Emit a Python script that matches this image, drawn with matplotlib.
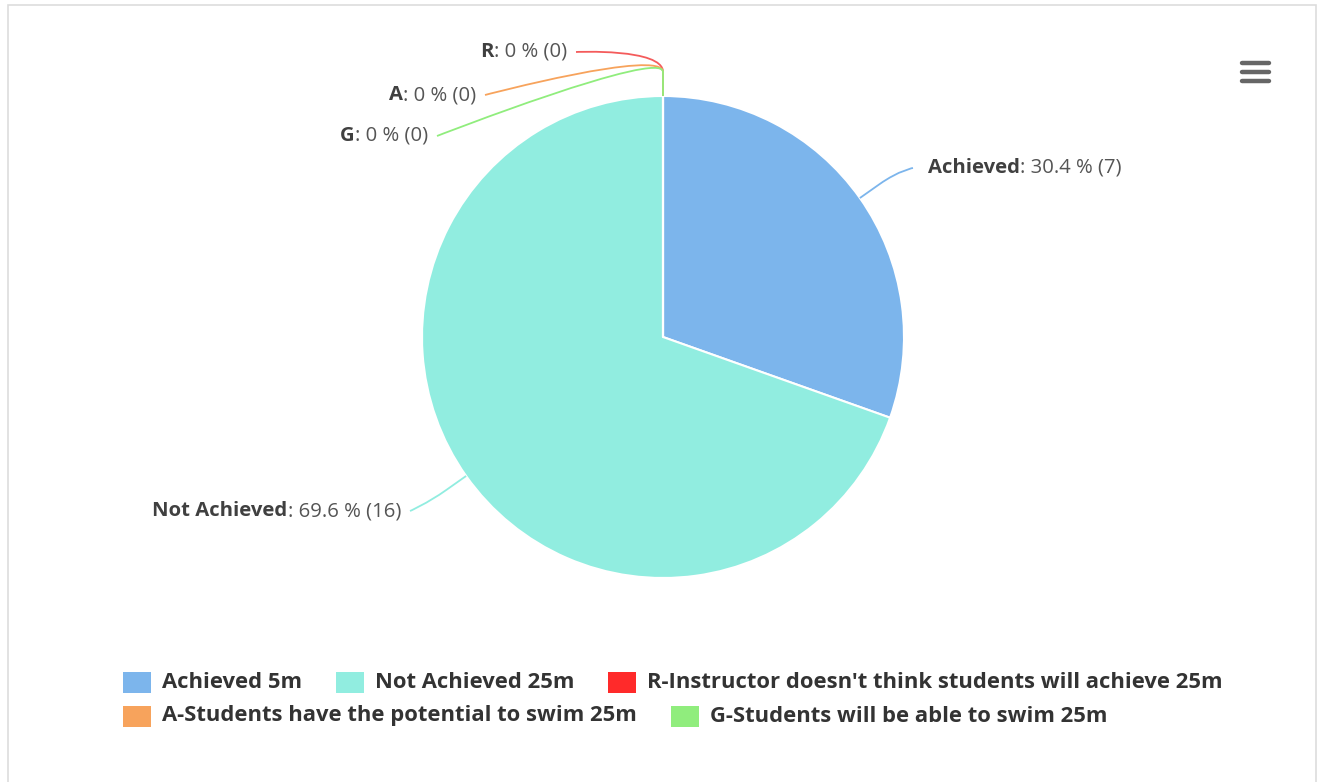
'''
Pie chart of swimming results (Highcharts style)
'''

import matplotlib
matplotlib.use('Agg')
import matplotlib.pyplot as plt
from matplotlib.path import Path
from matplotlib.patches import PathPatch, Rectangle
import numpy as np

W, H = 1325, 782

# data
slice_names = ['Achieved', 'Not Achieved', 'R', 'A', 'G']
legend_names = ['Achieved 5m', 'Not Achieved 25m',
                "R-Instructor doesn't think students will achieve 25m",
                'A-Students have the potential to swim 25m',
                'G-Students will be able to swim 25m']
counts = [7, 16, 0, 0, 0]
colors = ['#7cb5ec', '#91ede0', '#ff2a2a', '#f7a35c', '#90ed7d']
line_colors = ['#7cb5ec', '#91ede0', '#f45b5b', '#f7a35c', '#90ed7d']

# layout (pixel coords, y measured from top)
CX, CY, R = 663, 337, 241
BREAK = 24
label_end = [(913, 168), (410, 511), (576, 52), (485, 95), (437, 136)]
label_side = ['right', 'left', 'left', 'left', 'left']
legend_rows = [[0, 1, 2], [3, 4]]
legend_y = [682, 716]
legend_x0 = 123

FONT = 'Open Sans'
LABEL_SIZE = 14.6
LEGEND_SIZE = 15.8
TXT = '#333333'


def py(y):
    return H - y


fig = plt.figure(figsize=(W / 100, H / 100), dpi=100)
ax = fig.add_axes([0, 0, 1, 1])

wedges, _ = ax.pie(counts, colors=colors, startangle=90, counterclock=False,
                   center=(CX, py(CY)), radius=R,
                   wedgeprops=dict(edgecolor='white', linewidth=1.5))
ax.set_xlim(0, W)
ax.set_ylim(0, H)
ax.set_aspect('equal')
ax.axis('off')

# frame
fig.patches.append(Rectangle((8 / W, -0.1), (1316 - 8) / W, (H - 5) / H + 0.1,
                             transform=fig.transFigure, fill=False,
                             edgecolor='#dddddd', linewidth=1.2))

renderer = fig.canvas.get_renderer()
total = float(sum(counts))

for wedge, name, n, color, (lx, ly), side in zip(
        wedges, slice_names, counts, line_colors, label_end, label_side):
    ang = np.deg2rad((wedge.theta1 + wedge.theta2) / 2)
    ex, ey = CX + R * np.cos(ang), py(CY) + R * np.sin(ang)
    bx, by = CX + (R + BREAK) * np.cos(ang), py(CY) + (R + BREAK) * np.sin(ang)
    lyd = py(ly)
    verts = [(lx, lyd), (lx, lyd), (2 * bx - ex, 2 * by - ey), (bx, by), (ex, ey)]
    codes = [Path.MOVETO, Path.CURVE4, Path.CURVE4, Path.CURVE4, Path.LINETO]
    ax.add_patch(PathPatch(Path(verts, codes), fill=False, edgecolor=color,
                           linewidth=1.3, zorder=1))

    pct = round(100 * n / total, 1)
    pct_txt = ('%d' % pct) if pct == int(pct) else ('%.1f' % pct)
    rest = ': %s %% (%d)' % (pct_txt, n)
    if side == 'right':
        t = ax.text(lx + 15, lyd, name, ha='left', va='center',
                    fontfamily=FONT, fontsize=LABEL_SIZE,
                    fontweight='bold', color='#404040')
        bb = t.get_window_extent(renderer)
        ax.text(bb.x1, lyd, rest, ha='left', va='center',
                fontfamily=FONT, fontsize=LABEL_SIZE, color='#555555')
    else:
        t = ax.text(lx - 9, lyd, rest, ha='right', va='center',
                    fontfamily=FONT, fontsize=LABEL_SIZE, color='#555555')
        bb = t.get_window_extent(renderer)
        ax.text(bb.x0, lyd, name, ha='right', va='center',
                fontfamily=FONT, fontsize=LABEL_SIZE,
                fontweight='bold', color='#404040')

# legend
for row, y in zip(legend_rows, legend_y):
    x = legend_x0
    for i in row:
        ax.add_patch(Rectangle((x, py(y) - 10.5), 28, 21, facecolor=colors[i],
                               edgecolor='none'))
        t = ax.text(x + 39, py(y), legend_names[i], ha='left', va='center',
                    fontfamily=FONT, fontsize=LEGEND_SIZE,
                    fontweight='bold', color=TXT)
        bb = t.get_window_extent(renderer)
        x = bb.x1 + 34

# context menu icon
for yy in [63, 72, 81]:
    ax.plot([1242, 1269], [py(yy), py(yy)], color='#666666', linewidth=3.2,
            solid_capstyle='round')

fig.savefig('out.png', dpi=100)
